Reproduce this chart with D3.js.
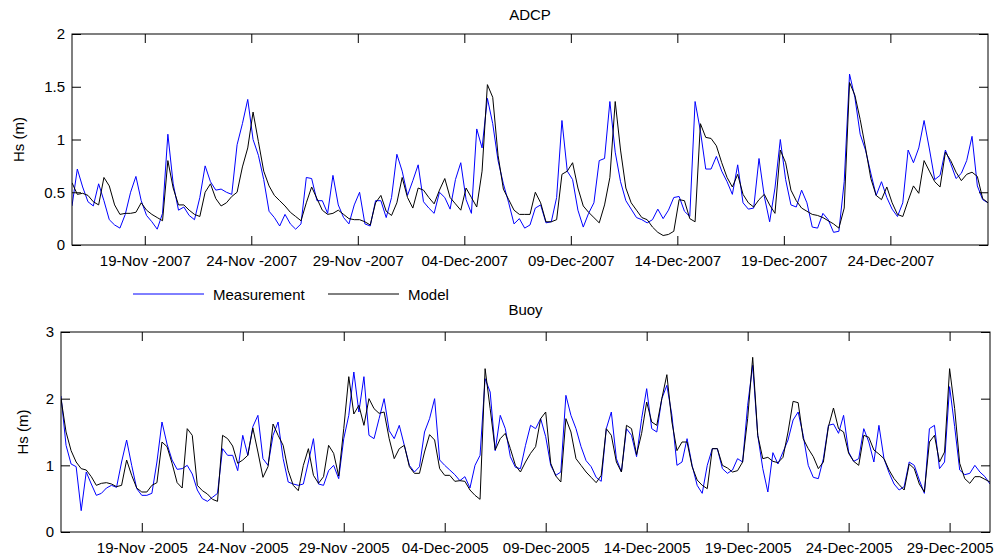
<!DOCTYPE html>
<html>
<head>
<meta charset="utf-8">
<script src="https://cdn.jsdelivr.net/npm/d3@7"></script>
<style>
  body { margin: 0; background: #fff; }
  svg { display: block; font-family: "Liberation Sans", Arial, sans-serif; }
</style>
</head>
<body>
<div id="chart"></div>
<script>
//data - ADCP (2007), one value every 6 hours
const adcpStart = Date.UTC(2007, 10, 15, 14);
const adcpStepHours = 6;
const adcpMeasurement = [
  0.37,0.72,0.55,0.41,0.37,0.58,0.42,0.24,0.19,0.16,
  0.29,0.50,0.65,0.42,0.28,0.22,0.15,0.30,1.05,0.58,
  0.33,0.36,0.28,0.24,0.45,0.75,0.60,0.52,0.53,0.50,
  0.48,0.95,1.15,1.38,1.00,0.85,0.62,0.32,0.26,0.18,
  0.29,0.20,0.15,0.20,0.64,0.63,0.42,0.42,0.30,0.66,
  0.38,0.26,0.20,0.38,0.50,0.20,0.18,0.42,0.42,0.26,
  0.45,0.86,0.70,0.47,0.61,0.76,0.41,0.35,0.30,0.50,
  0.45,0.34,0.62,0.78,0.43,0.30,1.10,0.92,1.39,1.15,
  0.80,0.58,0.40,0.20,0.25,0.16,0.19,0.35,0.38,0.21,
  0.22,0.45,1.18,0.70,0.62,0.33,0.17,0.30,0.40,0.80,
  0.82,1.36,0.88,0.60,0.42,0.34,0.26,0.24,0.21,0.24,
  0.34,0.25,0.33,0.45,0.46,0.32,0.27,1.36,1.08,0.72,
  0.72,0.84,0.70,0.60,0.48,0.76,0.40,0.34,0.35,0.82,
  0.46,0.22,0.54,1.00,0.62,0.38,0.36,0.52,0.40,0.17,
  0.16,0.30,0.24,0.12,0.13,0.60,1.62,1.40,1.05,0.90,
  0.68,0.47,0.60,0.45,0.34,0.27,0.40,0.90,0.78,0.92,
  1.18,0.91,0.62,0.66,0.90,0.77,0.63,0.68,0.80,1.03,
  0.56,0.43,0.40
];
const adcpModel = [
  0.59,0.48,0.49,0.47,0.41,0.38,0.64,0.56,0.38,0.29,
  0.30,0.30,0.31,0.40,0.33,0.29,0.26,0.23,0.80,0.54,
  0.38,0.38,0.33,0.29,0.27,0.50,0.58,0.44,0.37,0.40,
  0.46,0.50,0.74,0.92,1.26,0.98,0.70,0.56,0.47,0.42,
  0.37,0.31,0.27,0.23,0.40,0.55,0.44,0.33,0.29,0.30,
  0.33,0.29,0.25,0.24,0.24,0.22,0.19,0.40,0.47,0.32,
  0.28,0.40,0.64,0.45,0.35,0.54,0.52,0.45,0.39,0.52,
  0.63,0.45,0.39,0.33,0.54,0.45,0.36,0.70,1.52,1.40,
  0.85,0.53,0.43,0.33,0.29,0.29,0.29,0.50,0.40,0.22,
  0.22,0.24,0.67,0.70,0.78,0.54,0.37,0.31,0.26,0.21,
  0.38,0.64,1.36,0.90,0.54,0.40,0.33,0.26,0.24,0.17,
  0.12,0.09,0.10,0.13,0.43,0.42,0.25,0.22,1.15,1.02,
  1.01,0.94,0.78,0.64,0.55,0.67,0.48,0.40,0.36,0.43,
  0.48,0.38,0.30,0.90,0.78,0.52,0.42,0.35,0.32,0.29,
  0.28,0.26,0.23,0.20,0.16,0.35,1.54,1.42,1.19,0.92,
  0.63,0.47,0.43,0.55,0.40,0.29,0.27,0.42,0.56,0.49,
  0.80,0.70,0.60,0.55,0.88,0.80,0.69,0.61,0.67,0.69,
  0.65,0.44,0.40
];
const adcpTickDates = ["2007-11-19", "2007-11-24", "2007-11-29", "2007-12-04",
  "2007-12-09", "2007-12-14", "2007-12-19", "2007-12-24"];
const adcpTickLabels = ["19-Nov -2007", "24-Nov -2007", "29-Nov -2007", "04-Dec-2007",
  "09-Dec-2007", "14-Dec-2007", "19-Dec-2007", "24-Dec-2007"];
const adcpYTicks = [0, 0.5, 1, 1.5, 2];

//data - Buoy (2005), one value every 6 hours
const buoyStart = Date.UTC(2005, 10, 15, 0);
const buoyStepHours = 6;
const buoyMeasurement = [
  2.04,1.30,1.02,0.98,0.32,0.90,0.72,0.55,0.58,0.66,
  0.70,0.67,1.05,1.38,1.00,0.65,0.55,0.55,0.58,1.05,
  1.65,1.32,1.08,0.94,0.95,1.00,0.87,0.63,0.50,0.46,
  0.52,0.58,1.25,1.15,1.15,0.92,1.45,1.15,1.58,1.75,
  1.10,1.00,1.45,1.65,1.10,0.75,0.72,0.70,0.72,1.05,
  1.40,0.72,0.70,0.92,1.00,0.80,1.40,1.75,2.40,1.80,
  2.33,1.45,1.40,1.70,2.00,1.52,1.40,1.60,1.30,1.00,
  0.90,0.98,1.50,1.70,2.00,1.08,1.00,0.93,0.86,0.77,
  0.83,0.66,1.00,1.15,2.30,2.10,1.22,1.75,1.55,1.13,
  0.97,0.95,1.30,1.60,1.55,1.70,1.43,1.00,0.85,0.90,
  2.05,1.75,1.55,1.28,1.07,0.98,0.82,0.76,1.55,1.80,
  1.10,0.90,1.55,1.45,1.13,1.70,2.15,1.55,1.50,2.00,
  2.20,1.75,1.00,1.05,1.40,1.00,0.70,0.58,1.00,1.25,
  1.25,0.95,0.88,0.93,1.10,1.05,1.90,2.50,1.45,0.95,
  0.60,1.19,1.02,1.20,1.38,1.68,1.80,1.45,1.00,0.82,
  0.80,1.10,1.60,1.62,1.48,1.75,1.20,1.06,1.10,1.55,
  1.35,1.05,1.60,1.10,0.89,0.72,0.63,0.68,1.05,1.00,
  0.78,0.58,1.55,1.60,0.95,1.05,2.18,1.58,0.93,0.86,
  0.88,1.00,0.90,0.83,0.72
];
const buoyModel = [
  2.00,1.50,1.22,1.05,0.95,0.93,0.83,0.70,0.73,0.74,
  0.72,0.68,0.70,1.08,0.85,0.66,0.60,0.60,0.70,0.74,
  1.35,1.28,1.03,0.74,0.66,1.55,1.45,0.70,0.62,0.57,
  0.49,0.46,1.45,1.40,1.29,1.03,1.08,1.15,1.56,1.20,
  0.82,0.98,1.62,1.45,1.30,0.92,0.70,0.62,1.00,1.25,
  0.85,0.73,0.83,1.30,1.18,0.84,1.55,2.33,1.77,1.90,
  1.60,2.00,1.85,1.78,1.80,1.40,1.10,1.25,1.30,0.98,
  0.88,0.88,1.20,1.46,1.38,0.95,0.85,0.85,0.76,0.77,
  0.76,0.63,0.55,0.49,2.45,1.85,1.23,1.40,1.48,1.25,
  1.00,0.90,1.05,1.18,1.28,1.70,1.80,1.03,0.84,0.75,
  1.70,1.50,1.10,1.00,0.90,0.82,0.74,0.85,1.55,1.45,
  1.05,0.90,1.60,1.55,1.16,1.48,1.95,1.65,1.60,2.00,
  2.36,1.65,1.22,1.35,1.35,0.98,0.78,0.70,0.65,1.25,
  1.25,1.00,0.96,0.90,0.92,1.05,1.70,2.62,1.45,1.10,
  1.12,1.06,1.04,1.12,1.50,1.96,1.94,1.40,1.25,1.13,
  0.95,1.05,1.58,1.86,1.55,1.50,1.18,1.06,1.00,1.45,
  1.42,1.23,1.17,1.10,0.93,0.80,0.71,0.63,1.02,0.95,
  0.72,0.60,1.35,1.45,1.05,1.20,2.45,1.85,1.03,0.80,
  0.73,0.83,0.83,0.79,0.75
];
const buoyTickDates = ["2005-11-19", "2005-11-24", "2005-11-29", "2005-12-04",
  "2005-12-09", "2005-12-14", "2005-12-19", "2005-12-24", "2005-12-29"];
const buoyTickLabels = ["19-Nov -2005", "24-Nov -2005", "29-Nov -2005", "04-Dec-2005",
  "09-Dec-2005", "14-Dec-2005", "19-Dec-2005", "24-Dec-2005", "29-Dec-2005"];
const buoyYTicks = [0, 1, 2, 3];

const seriesNames = ["Measurement", "Model"];
const seriesColors = ["#0000ff", "#000000"];

//size
const width = 998, height = 560;
const fontSize = 15;
const tickLen = 9;

const svg = d3.select("#chart").append("svg")
  .attr("width", width)
  .attr("height", height)
  .attr("viewBox", [0, 0, width, height]);

const hour = 3600 * 1000;
const toPoints = (start, step, values) =>
  values.map((v, i) => ({ t: new Date(start + i * step * hour), v }));

drawPanel({
  id: "adcp",
  title: "ADCP",
  left: 72, right: 988, top: 34, bottom: 245,
  domainX: [new Date(adcpStart), new Date(Date.UTC(2007, 11, 28, 14))],
  domainY: [0, 2],
  yTicks: adcpYTicks,
  tickDates: adcpTickDates,
  tickLabels: adcpTickLabels,
  series: [
    toPoints(adcpStart, adcpStepHours, adcpMeasurement),
    toPoints(adcpStart, adcpStepHours, adcpModel)
  ],
  yLabelX: 18,
  titleY: 19.5
});

drawPanel({
  id: "buoy",
  title: "Buoy",
  left: 61, right: 990, top: 332, bottom: 532,
  domainX: [new Date(buoyStart), new Date(Date.UTC(2005, 11, 31, 0))],
  domainY: [0, 3],
  yTicks: buoyYTicks,
  tickDates: buoyTickDates,
  tickLabels: buoyTickLabels,
  series: [
    toPoints(buoyStart, buoyStepHours, buoyMeasurement),
    toPoints(buoyStart, buoyStepHours, buoyModel)
  ],
  yLabelX: 22,
  titleY: 315
});

//legend
const legend = svg.append("g").attr("class", "legend");
const legendX = [133, 328];
seriesNames.forEach((name, i) => {
  legend.append("line")
    .attr("x1", legendX[i]).attr("x2", legendX[i] + 71)
    .attr("y1", 294).attr("y2", 294)
    .attr("stroke", seriesColors[i])
    .attr("stroke-width", 1);
  legend.append("text")
    .attr("x", legendX[i] + 80)
    .attr("y", 299.5)
    .attr("font-size", fontSize)
    .attr("fill", "#000")
    .text(name);
});

function drawPanel(p) {
  const xScale = d3.scaleUtc().domain(p.domainX).range([p.left, p.right]);
  const yScale = d3.scaleLinear().domain(p.domainY).range([p.bottom, p.top]);
  const ticks = p.tickDates.map((d) => new Date(d));

  const g = svg.append("g").attr("class", "panel " + p.id);

  //clip
  g.append("clipPath").attr("id", "clip-" + p.id)
    .append("rect")
    .attr("x", p.left).attr("y", p.top)
    .attr("width", p.right - p.left).attr("height", p.bottom - p.top);

  //lines
  const line = d3.line()
    .x((d) => xScale(d.t))
    .y((d) => yScale(d.v));
  g.append("g")
    .attr("clip-path", `url(#clip-${p.id})`)
    .selectAll("path")
    .data(p.series)
    .join("path")
    .attr("fill", "none")
    .attr("stroke", (d, i) => seriesColors[i])
    .attr("stroke-width", 1)
    .attr("stroke-linejoin", "round")
    .attr("d", line);

  //x-axis
  g.append("g")
    .attr("transform", `translate(0,${p.bottom})`)
    .call(d3.axisBottom(xScale)
      .tickValues(ticks)
      .tickFormat((d, i) => p.tickLabels[i])
      .tickSizeInner(-tickLen).tickSizeOuter(0).tickPadding(10))
    .call(styleAxis);
  g.append("g")
    .attr("transform", `translate(0,${p.top})`)
    .call(d3.axisTop(xScale)
      .tickValues(ticks).tickFormat("")
      .tickSizeInner(-tickLen).tickSizeOuter(0))
    .call(styleAxis);

  //y-axis
  g.append("g")
    .attr("transform", `translate(${p.left},0)`)
    .call(d3.axisLeft(yScale)
      .tickValues(p.yTicks).tickFormat(d3.format("~g"))
      .tickSizeInner(-tickLen).tickSizeOuter(0).tickPadding(7))
    .call(styleAxis);
  g.append("g")
    .attr("transform", `translate(${p.right},0)`)
    .call(d3.axisRight(yScale)
      .tickValues(p.yTicks).tickFormat("")
      .tickSizeInner(-tickLen).tickSizeOuter(0))
    .call(styleAxis);

  //box
  g.append("rect")
    .attr("x", p.left).attr("y", p.top)
    .attr("width", p.right - p.left).attr("height", p.bottom - p.top)
    .attr("fill", "none")
    .attr("stroke", "#000")
    .attr("stroke-width", 1);

  //labels
  g.append("text")
    .attr("x", (p.left + p.right) / 2)
    .attr("y", p.titleY)
    .attr("text-anchor", "middle")
    .attr("font-size", fontSize)
    .text(p.title);
  g.append("text")
    .attr("transform", `translate(${p.yLabelX},${(p.top + p.bottom) / 2}) rotate(-90)`)
    .attr("text-anchor", "middle")
    .attr("dominant-baseline", "central")
    .attr("font-size", fontSize)
    .text("Hs (m)");
}

function styleAxis(sel) {
  sel.select(".domain").remove();
  sel.selectAll(".tick line").attr("stroke", "#000");
  sel.selectAll(".tick text")
    .attr("fill", "#000")
    .attr("font-size", fontSize)
    .attr("font-family", "Liberation Sans, Arial, sans-serif");
}
</script>
</body>
</html>
